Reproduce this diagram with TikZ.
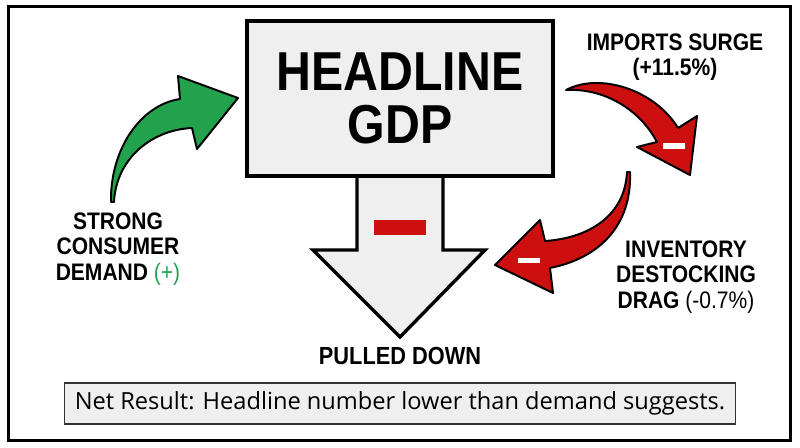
\documentclass[tikz,border=0pt]{standalone}
\usepackage{fontspec}
\setmainfont{Open Sans}
\newfontfamily\labelfont{Liberation Sans}[FakeStretch=0.88]
\usepackage{tikz}
\definecolor{boxgray}{HTML}{EFEFEF}
\definecolor{upgreen}{HTML}{22A24C}
\definecolor{dragred}{HTML}{CC1010}
\tikzset{
  sidelabel/.style={font=\labelfont\bfseries\fontsize{17}{18}\selectfont, align=center, inner sep=0pt},
  bentarrow/.style={draw=black, line width=1.4pt, line join=round},
}

\begin{document}
\begin{tikzpicture}[x=0.025cm, y=-0.025cm]
    \useasboundingbox (0,0) rectangle (800,447);
    \draw [line width=2.1pt] (8.5,6.5) rectangle (790.5,440.5);
    % big arrow under the box
    \draw [fill=boxgray, line width=2.4pt] (357,176) -- (357,250) -- (313,250) -- (400,337) -- (485,250) -- (443,250) -- (443,176);
    \fill [dragred] (374,220) rectangle (426,235);
    \node [draw, fill=boxgray, line width=2.4pt, minimum width=7.65cm, minimum height=3.875cm, align=center, font=\labelfont\bfseries\fontsize{39}{38}\selectfont] (headline) at (400,98.5) {HEADLINE\\GDP};
    \draw [bentarrow, fill=upgreen] (111,202) .. controls (110,150) and (140,105) .. (180,99) -- (178,76) -- (238,98) -- (197,149) -- (192,128) .. controls (150,130) and (116,160) .. (114,202) -- cycle;
    \draw [bentarrow, fill=dragred] (566,90) .. controls (600,72) and (655,90) .. (678,128) -- (697,116) -- (690,175) -- (637,147) -- (657,142) .. controls (640,110) and (605,88) .. (566,90) -- cycle;
    \fill [white] (663,143) rectangle (685,149);
    \draw [bentarrow, fill=dragred] (627,172) .. controls (625,215) and (590,238) .. (545,241) -- (540,220) -- (495,265) -- (553,293) -- (550,268) .. controls (600,258) and (632,225) .. (630,172) -- cycle;
    \fill [white] (518,258) rectangle (540,263);
    \node [sidelabel] (demand) at (118,249) {STRONG\\CONSUMER\\DEMAND {\mdseries\color{upgreen}(+)}};
    \node [sidelabel] (imports) at (675,57) {IMPORTS SURGE\\(+11.5\%)};
    \node [sidelabel] (inventory) at (686,277) {INVENTORY\\DESTOCKING\\DRAG {\mdseries(-0.7\%)}};
    \node [sidelabel, font=\labelfont\bfseries\fontsize{17.6}{18}\selectfont] (pulled) at (400,356) {PULLED DOWN};
    \node [draw=black!80, fill=boxgray, line width=1pt, minimum width=16.775cm, minimum height=1.025cm, font=\fontsize{16.8}{19}\selectfont] (result) at (400,403.5) {Net Result: Headline number lower than demand suggests.};
\end{tikzpicture}
\end{document}
